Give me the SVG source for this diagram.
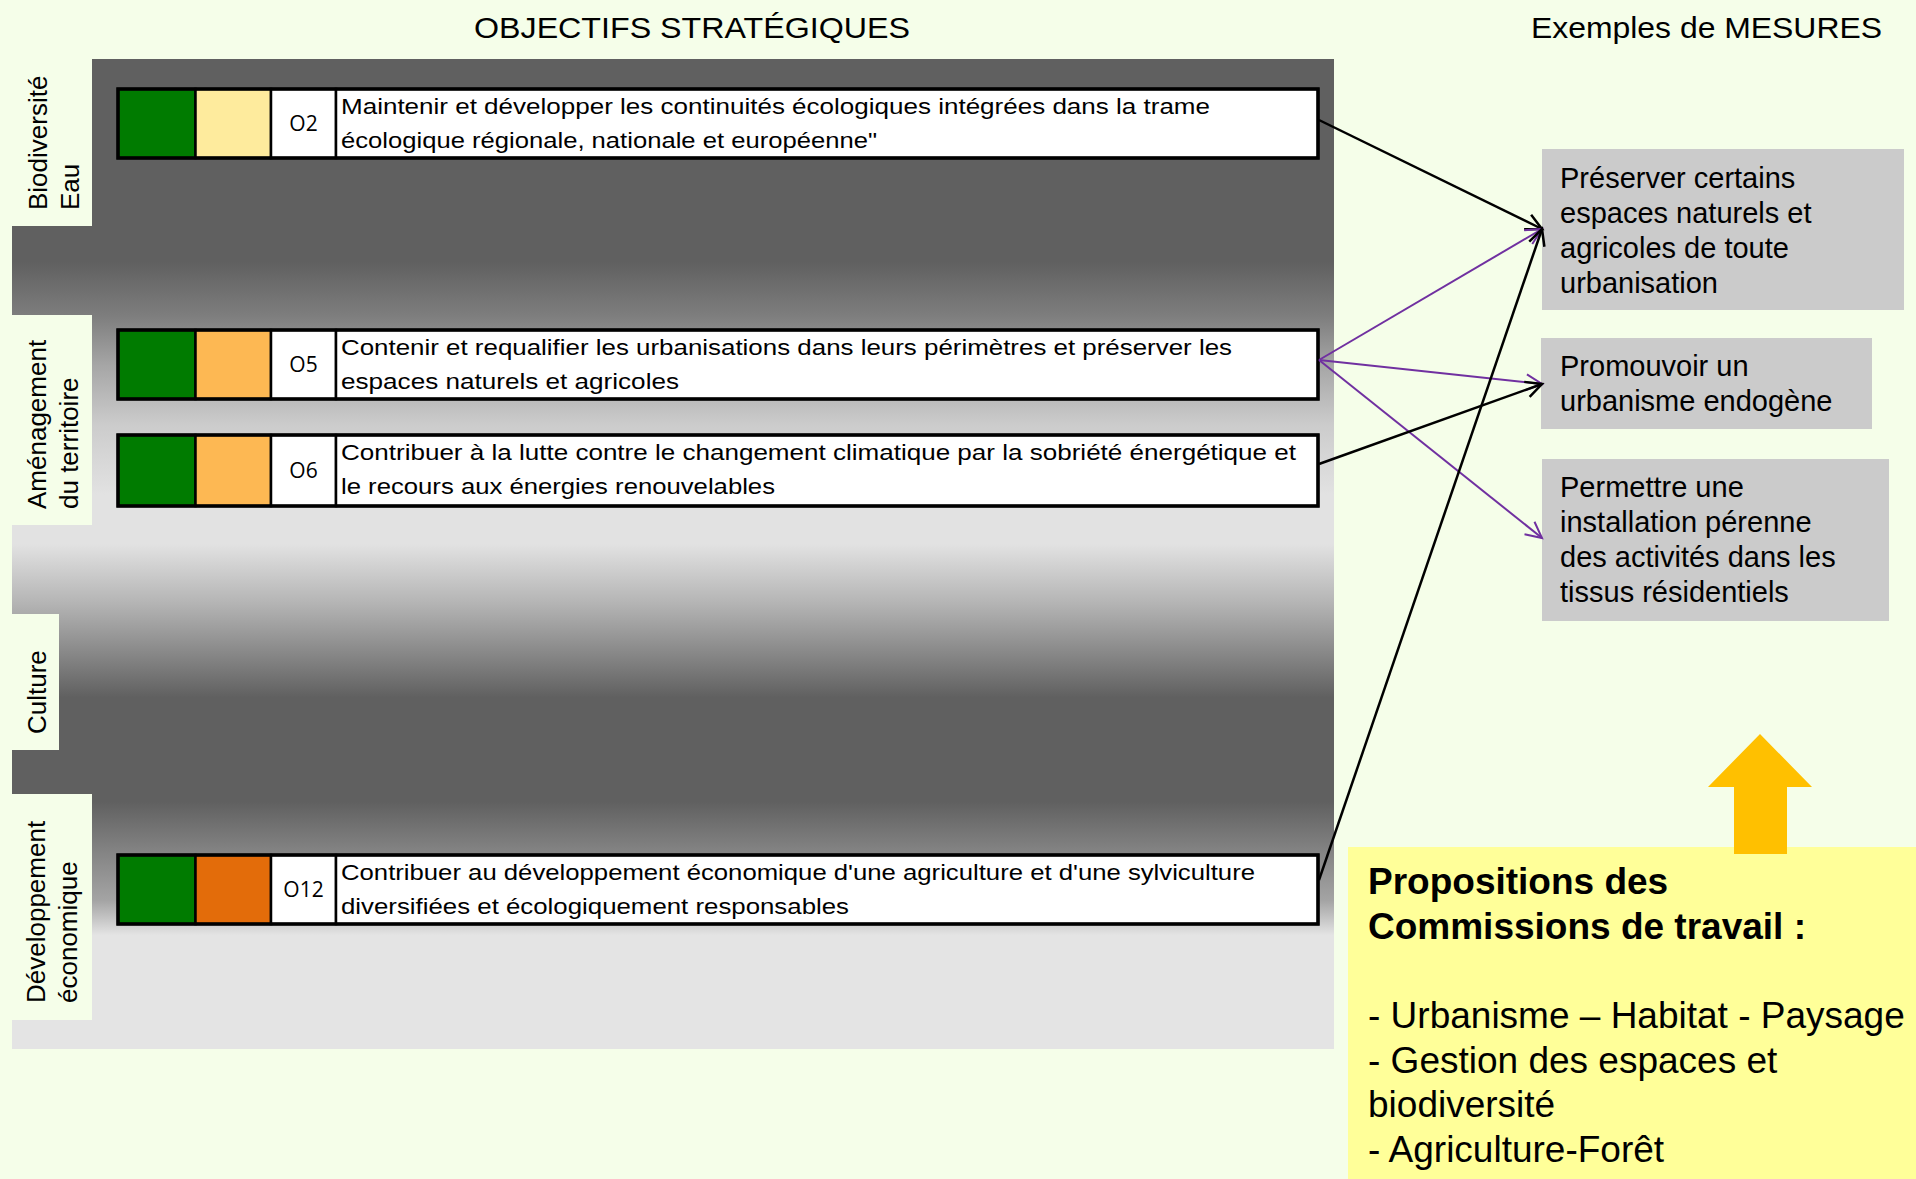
<svg xmlns="http://www.w3.org/2000/svg" width="1916" height="1179" viewBox="0 0 1916 1179">
<defs>
<style>
.sans{font-family:"Liberation Sans",Arial,sans-serif;fill:#000}
.head{font-size:30px}
.lab{font-size:26px}
.rowtxt{font-size:21.5px}
.code{font-family:"Open Sans","Liberation Sans",sans-serif;font-size:21px;text-anchor:middle;fill:#000}
.mes{font-size:29px}
.prop{font-size:37px}
.cell{stroke:#000;stroke-width:2.5}
.outer{fill:none;stroke:#000;stroke-width:3.5}
.green{fill:#007b00}
.txtcell{fill:#fff}
.mbox{fill:#cbcbcb}
.lbox{fill:#f5fee9}
.blk{stroke:#000;stroke-width:2.5;fill:none;marker-end:url(#ab)}
.pur{stroke:#7030a0;stroke-width:2;fill:none;marker-end:url(#ap)}
</style>
<linearGradient id="pg" x1="0" y1="0" x2="0" y2="1">
<stop offset="0" stop-color="#606060"/>
<stop offset="0.205" stop-color="#606060"/>
<stop offset="0.26" stop-color="#7e7e7e"/>
<stop offset="0.31" stop-color="#a6a6a6"/>
<stop offset="0.37" stop-color="#cccccc"/>
<stop offset="0.44" stop-color="#e2e2e2"/>
<stop offset="0.49" stop-color="#e2e2e2"/>
<stop offset="0.55" stop-color="#b4b4b4"/>
<stop offset="0.60" stop-color="#888888"/>
<stop offset="0.645" stop-color="#606060"/>
<stop offset="0.75" stop-color="#606060"/>
<stop offset="0.80" stop-color="#838383"/>
<stop offset="0.85" stop-color="#a4a4a4"/>
<stop offset="0.87" stop-color="#c8c8c8"/>
<stop offset="0.885" stop-color="#e4e4e4"/>
<stop offset="1" stop-color="#e4e4e4"/>
</linearGradient>
<marker id="ab" markerUnits="userSpaceOnUse" markerWidth="20" markerHeight="20" refX="16" refY="8" orient="auto" overflow="visible">
<path d="M0,0 L16,8 L0,16" fill="none" stroke="#000" stroke-width="2.5"/>
</marker>
<marker id="ap" markerUnits="userSpaceOnUse" markerWidth="20" markerHeight="20" refX="16" refY="8" orient="auto" overflow="visible">
<path d="M0,0 L16,8 L0,16" fill="none" stroke="#7030a0" stroke-width="2"/>
</marker>
</defs>

<rect x="0" y="0" width="1916" height="1179" fill="#f5fee9"/>

<g id="titles" class="sans head">
<text x="474" y="38" textLength="436" lengthAdjust="spacingAndGlyphs">OBJECTIFS STRATÉGIQUES</text>
<text x="1531" y="38" textLength="351" lengthAdjust="spacingAndGlyphs">Exemples de MESURES</text>
</g>

<g id="panel">
<rect x="12" y="59" width="1322" height="990" fill="url(#pg)"/>
</g>

<g id="label-biodiversite-eau">
<rect class="lbox" x="12" y="50" width="80" height="176"/>
<text class="sans lab" transform="translate(47,210) rotate(-90)">Biodiversité</text>
<text class="sans lab" transform="translate(79,210) rotate(-90)">Eau</text>
</g>
<g id="label-amenagement">
<rect class="lbox" x="12" y="315" width="80" height="210"/>
<text class="sans lab" transform="translate(46,509) rotate(-90)">Aménagement</text>
<text class="sans lab" transform="translate(78,509) rotate(-90)">du territoire</text>
</g>
<g id="label-culture">
<rect class="lbox" x="12" y="614" width="47" height="136"/>
<text class="sans lab" transform="translate(46,734) rotate(-90)">Culture</text>
</g>
<g id="label-developpement">
<rect class="lbox" x="12" y="794" width="80" height="226"/>
<text class="sans lab" transform="translate(45,1003) rotate(-90)">Développement</text>
<text class="sans lab" transform="translate(77,1003) rotate(-90)">économique</text>
</g>

<g id="obj-O2">
<rect class="cell green" x="118" y="89" width="77.5" height="69"/>
<rect class="cell" fill="#feeb9d" x="195.5" y="89" width="75.5" height="69"/>
<rect class="cell txtcell" x="271" y="89" width="65" height="69"/>
<rect class="cell txtcell" x="336" y="89" width="982" height="69"/>
<rect class="outer" x="118" y="89" width="1200" height="69"/>
<text class="code" x="303.5" y="131">O2</text>
<text class="sans rowtxt" x="341" y="114" textLength="869" lengthAdjust="spacingAndGlyphs">Maintenir et développer les continuités écologiques intégrées dans la trame</text>
<text class="sans rowtxt" x="341" y="148" textLength="536" lengthAdjust="spacingAndGlyphs">écologique régionale, nationale et européenne"</text>
</g>

<g id="obj-O5">
<rect class="cell green" x="118" y="330" width="77.5" height="69"/>
<rect class="cell" fill="#fdb853" x="195.5" y="330" width="75.5" height="69"/>
<rect class="cell txtcell" x="271" y="330" width="65" height="69"/>
<rect class="cell txtcell" x="336" y="330" width="982" height="69"/>
<rect class="outer" x="118" y="330" width="1200" height="69"/>
<text class="code" x="303.5" y="372">O5</text>
<text class="sans rowtxt" x="341" y="355" textLength="891" lengthAdjust="spacingAndGlyphs">Contenir et requalifier les urbanisations dans leurs périmètres et préserver les</text>
<text class="sans rowtxt" x="341" y="389" textLength="338" lengthAdjust="spacingAndGlyphs">espaces naturels et agricoles</text>
</g>

<g id="obj-O6">
<rect class="cell green" x="118" y="435" width="77.5" height="71"/>
<rect class="cell" fill="#fdb853" x="195.5" y="435" width="75.5" height="71"/>
<rect class="cell txtcell" x="271" y="435" width="65" height="71"/>
<rect class="cell txtcell" x="336" y="435" width="982" height="71"/>
<rect class="outer" x="118" y="435" width="1200" height="71"/>
<text class="code" x="303.5" y="478">O6</text>
<text class="sans rowtxt" x="341" y="460" textLength="955" lengthAdjust="spacingAndGlyphs">Contribuer à la lutte contre le changement climatique par la sobriété énergétique et</text>
<text class="sans rowtxt" x="341" y="494" textLength="434" lengthAdjust="spacingAndGlyphs">le recours aux énergies renouvelables</text>
</g>

<g id="obj-O12">
<rect class="cell green" x="118" y="855" width="77.5" height="69"/>
<rect class="cell" fill="#e36c0a" x="195.5" y="855" width="75.5" height="69"/>
<rect class="cell txtcell" x="271" y="855" width="65" height="69"/>
<rect class="cell txtcell" x="336" y="855" width="982" height="69"/>
<rect class="outer" x="118" y="855" width="1200" height="69"/>
<text class="code" x="303.5" y="897">O12</text>
<text class="sans rowtxt" x="341" y="880" textLength="914" lengthAdjust="spacingAndGlyphs">Contribuer au développement économique d'une agriculture et d'une sylviculture</text>
<text class="sans rowtxt" x="341" y="914" textLength="508" lengthAdjust="spacingAndGlyphs">diversifiées et écologiquement responsables</text>
</g>

<g id="mesure-preserver">
<rect class="mbox" x="1542" y="149" width="362" height="161"/>
<text class="sans mes" x="1560" y="188">Préserver certains</text>
<text class="sans mes" x="1560" y="223">espaces naturels et</text>
<text class="sans mes" x="1560" y="258">agricoles de toute</text>
<text class="sans mes" x="1560" y="293">urbanisation</text>
</g>
<g id="mesure-promouvoir">
<rect class="mbox" x="1541" y="338" width="331" height="91"/>
<text class="sans mes" x="1560" y="376">Promouvoir un</text>
<text class="sans mes" x="1560" y="411">urbanisme endogène</text>
</g>
<g id="mesure-permettre">
<rect class="mbox" x="1542" y="459" width="347" height="162"/>
<text class="sans mes" x="1560" y="497">Permettre une</text>
<text class="sans mes" x="1560" y="532">installation pérenne</text>
<text class="sans mes" x="1560" y="567">des activités dans les</text>
<text class="sans mes" x="1560" y="602">tissus résidentiels</text>
</g>

<g id="propositions">
<rect x="1348" y="847" width="568" height="332" fill="#ffff99"/>
<polygon points="1760,734 1812,787 1787,787 1787,854 1734,854 1734,787 1708,787" fill="#ffc000"/>
<text class="sans prop" font-weight="bold" x="1368" y="894">Propositions des</text>
<text class="sans prop" font-weight="bold" x="1368" y="939">Commissions de travail :</text>
<text class="sans prop" x="1368" y="1028">- Urbanisme – Habitat - Paysage</text>
<text class="sans prop" x="1368" y="1073">- Gestion des espaces et</text>
<text class="sans prop" x="1368" y="1117">biodiversité</text>
<text class="sans prop" x="1368" y="1162">- Agriculture-Forêt</text>
</g>

<g id="connectors">
<line class="blk" x1="1319" y1="120" x2="1542" y2="229"/>
<line class="pur" x1="1319" y1="360" x2="1542" y2="229"/>
<line class="pur" x1="1319" y1="360" x2="1542" y2="384"/>
<line class="pur" x1="1319" y1="360" x2="1542" y2="538"/>
<line class="blk" x1="1319" y1="464" x2="1542" y2="384"/>
<line class="blk" x1="1319" y1="880" x2="1542" y2="229"/>
</g>
</svg>
